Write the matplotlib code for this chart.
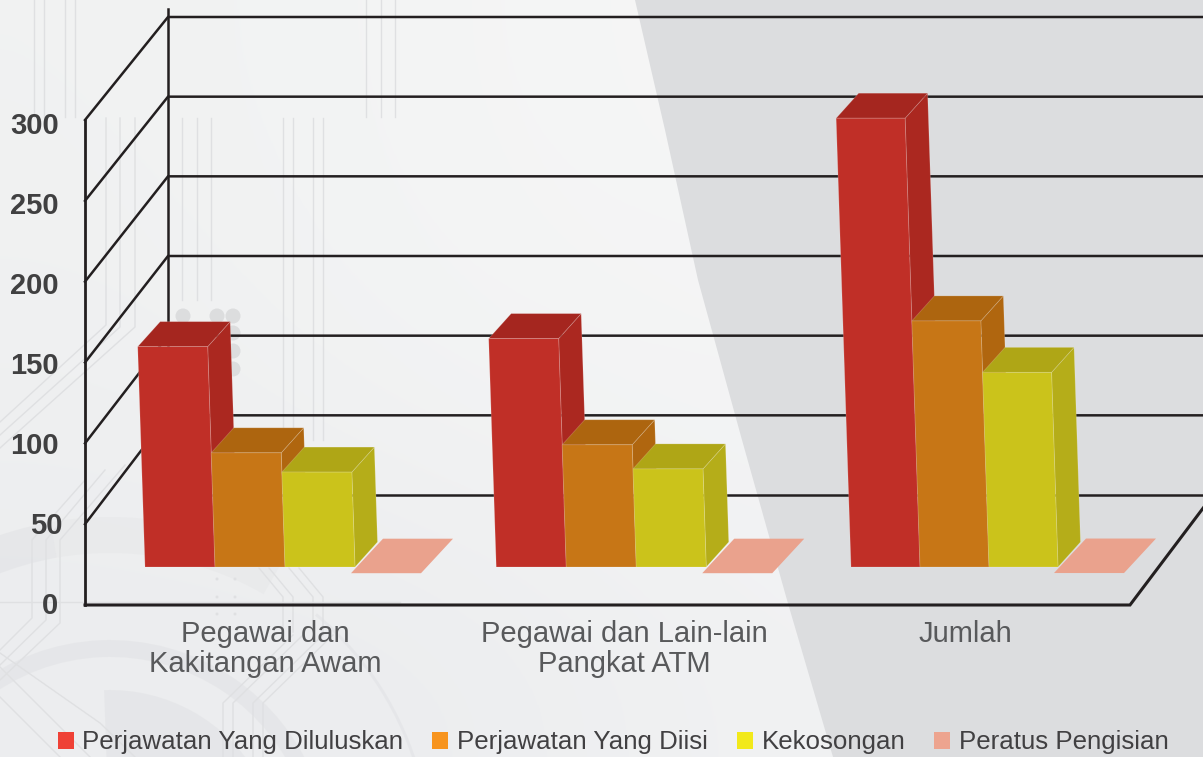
import numpy as np
import matplotlib
matplotlib.use('Agg')
import matplotlib.pyplot as plt
from matplotlib.patches import Patch, Wedge, Circle, Polygon
from matplotlib.transforms import ScaledTranslation

plt.rcParams['font.family'] = ['Liberation Sans', 'DejaVu Sans']

# data
categories = ['Pegawai dan\nKakitangan Awam', 'Pegawai dan Lain-lain\nPangkat ATM', 'Jumlah']
series = ['Perjawatan Yang Diluluskan', 'Perjawatan Yang Diisi', 'Kekosongan', 'Peratus Pengisian']
diluluskan = [137, 142, 279]
diisi = [71, 76, 153]
kekosongan = [59, 61, 121]
peratus = [0.5, 0.5, 0.6]
y_ticks = [0, 50, 100, 150, 200, 250, 300]

# colours: front, side, top
bar_colors = [('#c02f27', '#ab2820', '#a5261f'),
              ('#c77616', '#b0660f', '#ad650f'),
              ('#cbc31b', '#b5ad19', '#afa616')]
pink = '#eaa28d'
legend_colors = ['#ef4136', '#f7941e', '#f2e91a', '#eda48f']
line_color = '#231f20'

W, H = 1203, 757
fig = plt.figure(figsize=(W / 100, H / 100), dpi=100)

# background layer, in pixels
bg = fig.add_axes([0, 0, 1, 1], zorder=0)
bg.axis('off')
grad = np.array([[[0.945, 0.949, 0.949], [0.957, 0.961, 0.961], [0.965, 0.965, 0.965]],
                 [[0.937, 0.941, 0.945], [0.953, 0.957, 0.957], [0.957, 0.957, 0.961]],
                 [[0.925, 0.929, 0.937], [0.925, 0.929, 0.937], [0.945, 0.949, 0.953]]])
bg.imshow(grad, extent=(0, 900, H, 0), aspect='auto', interpolation='bicubic', zorder=0)
bg.set_xlim(0, W)
bg.set_ylim(H, 0)

# faint circuit decoration (y is flipped here, so the ring angles are negative)
deco = '#dfe0e2'
ring = dict(fc='#d8d9dc', ec='none', alpha=0.3, zorder=1)
bg.add_patch(Wedge((110, 860), 343, -150, -100, width=36, **ring))
bg.add_patch(Wedge((110, 860), 343, -100, -60, width=36, fc='#d8d9dc', ec='none', alpha=0.18, zorder=1))
bg.add_patch(Wedge((110, 860), 220, -165, -20, width=17, **ring))
bg.add_patch(Wedge((110, 860), 170, -92, -30, width=70, **ring))
bg.add_patch(Wedge((110, 860), 322, -50, -15, width=3, **ring))

bg.add_patch(Polygon([(635, 0), (665, 130), (698, 280), (742, 440), (787, 600), (833, 757), (W, H), (W, 0)],
                     fc='#dcdddf', ec='none', zorder=1))

paths = [
    ([34, 34], [0, 117]), ([44, 44], [0, 117]), ([65, 65], [0, 117]), ([75, 75], [0, 117]),
    ([366, 366], [0, 117]), ([381, 381], [0, 117]), ([395, 395], [0, 117]),
    ([182, 182], [118, 300]), ([197, 197], [118, 300]), ([211, 211], [118, 300]),
    ([106, 106, 0], [118, 325, 422]), ([120, 120, 0], [118, 327, 435]), ([135, 135, 0], [118, 327, 448]),
    ([125, 60, 60, 0], [465, 540, 623, 680]), ([105, 46, 46, 0], [470, 540, 620, 665]),
    ([85, 32, 32, 0], [480, 540, 618, 650]),
    ([0, 100, 135], [653, 723, 757]), ([0, 90], [667, 757]), ([0, 60], [697, 757]),
    ([223, 223, 293], [757, 703, 635]), ([233, 233, 303], [757, 703, 635]),
    ([253, 253, 323], [757, 703, 635]), ([263, 263, 333], [757, 703, 635]),
    ([0, 400], [602, 602]),
]
for x in [283, 293, 313, 323]:
    paths.append(([x, x], [118, 440]))
    paths.append(([x - 24, x, x], [568, 597, 632]))
for xs, ys in paths:
    bg.plot(xs, ys, color=deco, lw=1, zorder=2)
for x, y in [(183, 316), (217, 316), (233, 316), (233, 333), (233, 351), (233, 369)]:
    bg.add_patch(Circle((x, y), 7.5, fc='#dcddde', ec='none', zorder=2))
for x in [217, 235]:
    for y in [579, 597, 614]:
        bg.add_patch(Circle((x, y), 1.5, fc='#dfe0e2', ec='none', zorder=2))

# front plane of the chart; depth is added as offsets on its scales
px_x = 353.0
px_y = 485 / 300
ax = fig.add_axes([85 / W, 1 - 605 / H, 1045 / W, 485 / H], zorder=2)
ax.patch.set_alpha(0)
x_max = 1045 / px_x
ax.set_xlim(0, x_max)
ax.set_ylim(0, 300)
for s in ax.spines.values():
    s.set_visible(False)

wall_dx = 83 / px_x
wall_dy = 110 / px_y
back_scale = 478 / 485
lw = 1.8
for v in y_ticks:
    back_y = wall_dy + v * back_scale
    if v == 0:
        # the floor has no left edge in the picture
        ax.plot([wall_dx, x_max + wall_dx], [back_y, back_y], color=line_color, lw=lw, clip_on=False, zorder=1)
    else:
        ax.plot([0, wall_dx, x_max + wall_dx], [v, back_y, back_y], color=line_color, lw=lw,
                clip_on=False, solid_joinstyle='miter', zorder=1)
ax.plot([0, 0], [0, 300], color=line_color, lw=2, clip_on=False, zorder=1)
ax.plot([wall_dx, wall_dx], [wall_dy, wall_dy + 300 * back_scale + 5], color=line_color, lw=lw,
        clip_on=False, zorder=1)
ax.plot([0, x_max, x_max + wall_dx], [0, 0, wall_dy], color=line_color, lw=2.2,
        clip_on=False, solid_joinstyle='miter', solid_capstyle='projecting', zorder=1)

# bars
group_x = np.array([0.17, 1.165, 2.17])
bar_ws = np.array([70, 70, 69]) / px_x
base_y = 38 / px_y
bar_dx = 22.5 / px_x
bar_dy = 25 / px_y
bar_scale = 0.995
lean = 0.033 * px_y / px_x  # bars tip to the left as they get taller
edge = dict(ec='#ffffff30', lw=0.6, clip_on=False, zorder=3)

for j, values in enumerate([diluluskan, diisi, kekosongan]):
    front, side, top = bar_colors[j]
    for i, v in enumerate(values):
        x0 = group_x[i] + j * bar_ws[i]
        x1 = x0 + bar_ws[i]
        t = base_y + v * bar_scale
        off = lean * v
        ax.fill([x1, x1 + bar_dx, x1 + bar_dx - off, x1 - off],
                [base_y, base_y + bar_dy, t + bar_dy, t], fc=side, **edge)
        ax.fill([x0 - off, x1 - off, x1 + bar_dx - off, x0 + bar_dx - off],
                [t, t, t + bar_dy, t + bar_dy], fc=top, **edge)
        ax.fill([x0, x1, x1 - off, x0 - off], [base_y, base_y, t, t], fc=front, **edge)

# the percentage series is almost flat on this scale
p_dx = 32 / px_x
p_dy = 34.5 / px_y
for i, v in enumerate(peratus):
    x0 = group_x[i] + 3 * bar_ws[i] - 4 / px_x
    x1 = x0 + 70 / px_x
    y0 = base_y - 7 / px_y + v * bar_scale
    ax.fill([x0, x1, x1 + p_dx, x0 + p_dx], [y0, y0, y0 + p_dy, y0 + p_dy],
            fc=pink, ec='none', clip_on=False, zorder=3)

# ticks
ax.set_yticks(y_ticks)
ax.set_yticklabels([str(v) for v in y_ticks], fontsize=21, fontweight='bold', color='#404041')
ax.tick_params(axis='y', length=0, pad=19)
for lab, v in zip(ax.get_yticklabels(), y_ticks):
    down = -2.5 + 6 * v / 300
    right = 4 if v == 50 else 0
    lab.set_transform(lab.get_transform() + ScaledTranslation(right / 100, -down / 100, fig.dpi_scale_trans))

label_x = np.array([0.51, 1.527, 2.493])
ax.set_xticks(label_x)
ax.set_xticklabels(categories, fontsize=21, color='#58595b', linespacing=1.06)
ax.tick_params(axis='x', length=0, pad=11)

handles = [Patch(fc=c, ec='none', label=s) for c, s in zip(legend_colors, series)]
fig.legend(handles=handles, loc='lower left', bbox_to_anchor=(55 / W, 0), ncol=4, frameon=False,
           fontsize=18.6, labelcolor='#414042', handlelength=0.62, handleheight=0.62,
           handletextpad=0.34, columnspacing=1.12, borderpad=0, borderaxespad=0.1)

fig.savefig('out.png', dpi=100)
